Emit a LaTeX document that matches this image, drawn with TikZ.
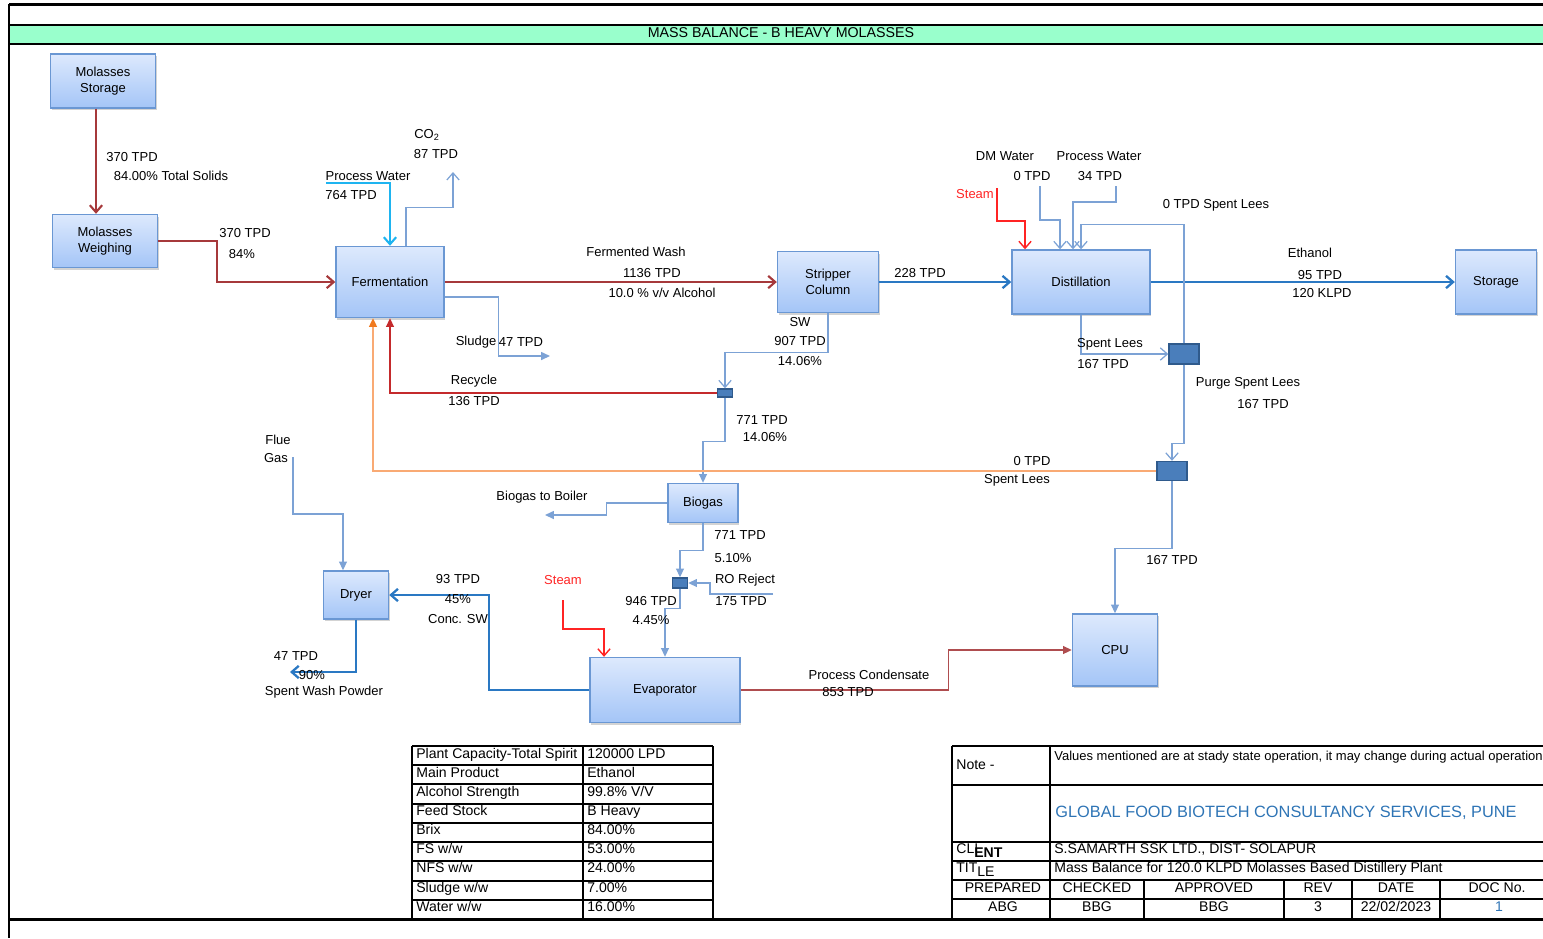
\documentclass[tikz,border=0pt]{standalone}
\usepackage{fontspec}
\setmainfont{Liberation Sans}
\usetikzlibrary{arrows.meta, shadows}

\definecolor{boxtop}{HTML}{DDE9FD}
\definecolor{boxbot}{HTML}{A4C5F7}
\definecolor{boxline}{HTML}{6A97D3}
\definecolor{mixfill}{HTML}{4A7EBB}
\definecolor{mixline}{HTML}{2F5A8C}
\definecolor{washred}{HTML}{A6393B}
\definecolor{recred}{HTML}{C42A2C}
\definecolor{thinblue}{HTML}{7CA2D5}
\definecolor{mainblue}{HTML}{2A78C3}
\definecolor{cyanwater}{HTML}{1EB4F0}
\definecolor{leesorange}{HTML}{F9AA74}
\definecolor{leestip}{HTML}{F07A20}
\definecolor{titlegreen}{HTML}{99FFCC}
\definecolor{gfblue}{HTML}{2E74B5}
\definecolor{steamred}{HTML}{FF2424}

\tikzstyle{unit} = [rectangle, draw=boxline, line width=0.8pt, top color=boxtop, bottom color=boxbot, align=center, inner sep=0pt, drop shadow={shadow xshift=0.8pt, shadow yshift=-1.2pt, opacity=0.35}]
\tikzstyle{mixer} = [rectangle, draw=mixline, fill=mixfill, line width=0.8pt, inner sep=0pt]
\tikzstyle{lbl} = [inner sep=0pt, align=center]
\tikzstyle{openhead} = [-{Straight Barb[length=4pt,width=7pt]}]
\tikzstyle{solidhead} = [-{Triangle[length=5pt,width=4.5pt]}]
\tikzstyle{washline} = [washred, line width=1.2pt, openhead]
\tikzstyle{mainline} = [mainblue, line width=1.3pt, openhead]
\tikzstyle{thinline} = [thinblue, line width=0.7pt]
\tikzstyle{steamline} = [steamred, line width=0.8pt, openhead]
\tikzstyle{tabline} = [black, line width=1.1pt]
\tikzstyle{cell} = [inner sep=0pt, anchor=west, text height=6pt, text depth=1.6pt, font=\fontsize{8}{9}\selectfont]
\tikzstyle{hcell} = [inner sep=0pt, text height=6pt, text depth=1.6pt, font=\fontsize{8}{9}\selectfont]

\begin{document}
\begin{tikzpicture}[x=0.02cm, y=-0.02cm, font=\fontsize{7.4}{9}\selectfont]
\useasboundingbox (0,0) rectangle (1543,938);

% Frame and title bar
\fill[titlegreen] (9,25) rectangle (1543,44);
\draw[line width=1.7pt] (9,4) -- (1543,4);
\draw[line width=1.2pt] (9,25) -- (1543,25);
\draw[line width=1.2pt] (9,44) -- (1543,44);
\draw[line width=1.7pt] (9,4) -- (9,938);
\draw[line width=1.7pt] (9,919) -- (1543,919);
\node[lbl, font=\fontsize{8.1}{9}\selectfont] (title) at (781,33) {MASS BALANCE - B HEAVY MOLASSES};

% Units
\node[unit, minimum width=2.1cm, minimum height=1.08cm] (molstore) at (103,81) {Molasses\\Storage};
\node[unit, minimum width=2.1cm, minimum height=1.06cm] (molweigh) at (105,241) {Molasses\\Weighing};
\node[unit, minimum width=2.16cm, minimum height=1.42cm] (ferm) at (390,282) {Fermentation};
\node[unit, minimum width=2.02cm, minimum height=1.22cm] (strip) at (828,282) {Stripper\\Column};
\node[unit, minimum width=2.76cm, minimum height=1.28cm] (dist) at (1081,282) {Distillation};
\node[unit, minimum width=1.62cm, minimum height=1.28cm] (store) at (1496,282) {Storage};
\node[unit, minimum width=1.4cm, minimum height=0.78cm] (biogas) at (703,503) {Biogas};
\node[unit, minimum width=1.3cm, minimum height=0.96cm] (dryer) at (356,595) {Dryer};
\node[unit, minimum width=3.0cm, minimum height=1.3cm] (evap) at (665,690) {Evaporator};
\node[unit, minimum width=1.7cm, minimum height=1.44cm] (cpu) at (1115,650) {CPU};

% Mixing points
\node[mixer, minimum width=0.3cm, minimum height=0.16cm] (mix1) at (725,393) {};
\node[mixer, minimum width=0.6cm, minimum height=0.4cm] (mix2) at (1184,354) {};
\node[mixer, minimum width=0.6cm, minimum height=0.38cm] (mix3) at (1172,471) {};
\node[mixer, minimum width=0.3cm, minimum height=0.2cm] (mix4) at (680,583) {};

% Free ends
\coordinate (pwin) at (326,183);
\coordinate (co2out) at (453,172);
\coordinate (sludgeout) at (550,356);
\coordinate (boilerout) at (545,515);
\coordinate (roin) at (773,594);
\coordinate (evsteam) at (563,600);
\coordinate (powderout) at (290,672);
\coordinate (fluein) at (293,457);
\coordinate (diststeam) at (997,188);
\coordinate (dmin) at (1040,186);
\coordinate (pw2in) at (1116,186);

% Flows
\draw[washline] ([xshift=-0.14cm]molstore.south) -- ([xshift=-0.14cm]molstore.south |- molweigh.north);
\draw[washline] (molweigh.east) -- ++(59,0) |- (ferm.west);
\draw[cyanwater, line width=1.2pt, openhead] (pwin) -| (ferm.north);
\draw[thinline, openhead] ([xshift=0.32cm]ferm.north) -- ++(0,-38) -| (co2out);
\draw[washline] (ferm.east) -- (strip.west);
\draw[thinline, solidhead] ([yshift=-0.3cm]ferm.east) -- ++(54,0) |- (sludgeout);
\draw[mainline] (strip.east) -- (dist.west);
\draw[thinline, openhead] (strip.south) -- ++(0,39) -| (mix1.north);
\draw[recred, line width=0.8pt, solidhead] (mix1.west) -| (ferm.south);
\draw[thinline, solidhead] (mix1.south) -- ++(0,44) -| (biogas.north);
\draw[leesorange, line width=1pt, -{Triangle[length=5pt,width=4.5pt,color=leestip]}] (mix3.west) -| ([xshift=-0.34cm]ferm.south);
\draw[thinline, solidhead] (biogas.west) -- ++(-61,0) |- (boilerout);
\draw[thinline, solidhead] (biogas.south) -- ++(0,27) -| (mix4.north);
\draw[thinline, solidhead] (roin) -- ++(-63,0) |- (mix4.east);
\draw[thinline, solidhead] (mix4.south) -- ++(0,20) -| (evap.north);
\draw[steamline] (evsteam) -- ++(0,29) -| ([xshift=-1.22cm]evap.north);
\draw[mainline] (evap.west) -- ++(-100,0) |- (dryer.east);
\draw[mainline] (dryer.south) |- (powderout);
\draw[thinline, solidhead] (fluein) -- ++(0,57) -| ([xshift=-0.26cm]dryer.north);
\draw[washred!90!white, line width=0.8pt, solidhead] (evap.east) -- ++(208,0) |- (cpu.west);
\draw[thinline, solidhead] (mix3.south) -- ++(0,67) -| (cpu.north);
\draw[mainline] (dist.east) -- (store.west);
\draw[thinline, openhead] (dist.south) |- (mix2.west);
\draw[thinline, openhead] (mix2.north) -- ++(0,-119) -| (dist.north);
\draw[thinline, openhead] (mix2.south) -- ++(0,79) -| (mix3.north);
\draw[steamline] (diststeam) -- ++(0,33) -| ([xshift=-1.12cm]dist.north);
\draw[thinline, openhead] (dmin) -- ++(0,34) -| ([xshift=-0.42cm]dist.north);
\draw[thinline, openhead] (pw2in) -- ++(0,16) -| ([xshift=-0.16cm]dist.north);

% Flow labels
\node[lbl] (l01) at (132,157) {370 TPD};
\node[lbl] (l02) at (171,176) {84.00\% Total Solids};
\node[lbl] (l03) at (245,233) {370 TPD};
\node[lbl] (l04) at (242,254) {84\%};
\node[lbl] (l05) at (368,176) {Process Water};
\node[lbl] (l06) at (351,195) {764 TPD};
\node[lbl] (l07) at (427,135) {CO\textsubscript{2}};
\node[lbl] (l08) at (436,154) {87 TPD};
\node[lbl] (l09) at (636,252) {Fermented Wash};
\node[lbl] (l10) at (652,273) {1136 TPD};
\node[lbl] (l11) at (662,293) {10.0 \% v/v Alcohol};
\node[lbl] (l12) at (476,342) {Sludge};
\node[lbl] (l13) at (521,342) {47 TPD};
\node[lbl] (l14) at (920,273) {228 TPD};
\node[lbl] (l15) at (800,322) {SW};
\node[lbl] (l16) at (800,341) {907 TPD};
\node[lbl] (l17) at (800,361) {14.06\%};
\node[lbl] (l18) at (474,381) {Recycle};
\node[lbl] (l19) at (474,401) {136 TPD};
\node[lbl] (l20) at (762,420) {771 TPD};
\node[lbl] (l21) at (765,437) {14.06\%};
\node[lbl] (l22) at (1032,461) {0 TPD};
\node[lbl] (l23) at (1017,480) {Spent Lees};
\node[lbl] (l24) at (542,497) {Biogas to Boiler};
\node[lbl] (l25) at (740,535) {771 TPD};
\node[lbl] (l26) at (733,558) {5.10\%};
\node[lbl] (l27) at (745,580) {RO Reject};
\node[lbl] (l28) at (741,601) {175 TPD};
\node[lbl] (l29) at (651,601) {946 TPD};
\node[lbl] (l30) at (651,620) {4.45\%};
\node[lbl, text=steamred] (l31) at (563,580) {Steam};
\node[lbl] (l32) at (458,579) {93 TPD};
\node[lbl] (l33) at (458,599) {45\%};
\node[lbl] (l34) at (458,619) {Conc. SW};
\node[lbl] (l35) at (296,656) {47 TPD};
\node[lbl] (l36) at (312,675) {90\%};
\node[lbl] (l37) at (324,692) {Spent Wash Powder};
\node[lbl] (l38) at (278,440) {Flue};
\node[lbl] (l39) at (276,458) {Gas};
\node[lbl] (l40) at (869,675) {Process Condensate};
\node[lbl] (l41) at (848,692) {853 TPD};
\node[lbl] (l42) at (1172,560) {167 TPD};
\node[lbl] (l43) at (1310,253) {Ethanol};
\node[lbl] (l44) at (1320,275) {95 TPD};
\node[lbl] (l45) at (1322,293) {120 KLPD};
\node[lbl] (l46) at (1110,344) {Spent Lees};
\node[lbl] (l47) at (1103,364) {167 TPD};
\node[lbl] (l48) at (1216,205) {0 TPD Spent Lees};
\node[lbl] (l49) at (1248,383) {Purge Spent Lees};
\node[lbl] (l50) at (1263,404) {167 TPD};
\node[lbl, text=steamred] (l51) at (975,194) {Steam};
\node[lbl] (l52) at (1005,156) {DM Water};
\node[lbl] (l53) at (1032,176) {0 TPD};
\node[lbl] (l54) at (1099,156) {Process Water};
\node[lbl] (l55) at (1100,176) {34 TPD};

% Plant data table
\foreach \k in {0,...,9}
  \draw[tabline] (412,{746+19.22*\k}) -- (713,{746+19.22*\k});
\draw[tabline] (412,746) -- (412,919);
\draw[tabline] (583,746) -- (583,919);
\draw[tabline] (713,746) -- (713,919);
\node[cell] (d1a) at (416,755) {Plant Capacity-Total Spirit};
\node[cell] (d1b) at (587,755) {120000 LPD};
\node[cell] (d2a) at (416,774) {Main Product};
\node[cell] (d2b) at (587,774) {Ethanol};
\node[cell] (d3a) at (416,793) {Alcohol Strength};
\node[cell] (d3b) at (587,793) {99.8\% V/V};
\node[cell] (d4a) at (416,812) {Feed Stock};
\node[cell] (d4b) at (587,812) {B Heavy};
\node[cell] (d5a) at (416,831) {Brix};
\node[cell] (d5b) at (587,831) {84.00\%};
\node[cell] (d6a) at (416,850) {FS w/w};
\node[cell] (d6b) at (587,850) {53.00\%};
\node[cell] (d7a) at (416,869) {NFS w/w};
\node[cell] (d7b) at (587,869) {24.00\%};
\node[cell] (d8a) at (416,889) {Sludge w/w};
\node[cell] (d8b) at (587,889) {7.00\%};
\node[cell] (d9a) at (416,908) {Water w/w};
\node[cell] (d9b) at (587,908) {16.00\%};

% Title block
\foreach \yy in {746,785,842,861,880,899,919}
  \draw[tabline] (952,\yy) -- (1543,\yy);
\draw[tabline] (952,746) -- (952,919);
\draw[tabline] (1050,746) -- (1050,919);
\foreach \xx in {1144,1284,1352,1440}
  \draw[tabline] (\xx,880) -- (\xx,919);
\node[cell] (notek) at (956,766) {Note -};
\node[cell, font=\fontsize{7.4}{9}\selectfont] (notev) at (1054,757) {Values mentioned are at stady state operation, it may change during actual operation};
\node[cell, text=gfblue, font=\fontsize{9.3}{11}\selectfont] (firm) at (1055,814) {GLOBAL FOOD BIOTECH CONSULTANCY SERVICES, PUNE};
\node[cell] (clientk) at (956,850) {CLI\hspace{-2.2pt}\raisebox{-2pt}{\textbf{ENT}}};
\node[cell] (clientv) at (1054,850) {S.SAMARTH SSK LTD., DIST- SOLAPUR};
\node[cell] (titlek) at (956,869) {TIT\raisebox{-2pt}{LE}};
\node[cell] (titlev) at (1054,869) {Mass Balance for 120.0 KLPD Molasses Based Distillery Plant};
\node[hcell] (h1) at (1003,889) {PREPARED};
\node[hcell] (h2) at (1097,889) {CHECKED};
\node[hcell] (h3) at (1214,889) {APPROVED};
\node[hcell] (h4) at (1318,889) {REV};
\node[hcell] (h5) at (1396,889) {DATE};
\node[hcell] (h6) at (1497,889) {DOC No.};
\node[hcell] (v1) at (1003,908) {ABG};
\node[hcell] (v2) at (1097,908) {BBG};
\node[hcell] (v3) at (1214,908) {BBG};
\node[hcell] (v4) at (1318,908) {3};
\node[hcell] (v5) at (1396,908) {22/02/2023};
\node[hcell, text=gfblue] (v6) at (1499,908) {1};

\end{tikzpicture}
\end{document}
